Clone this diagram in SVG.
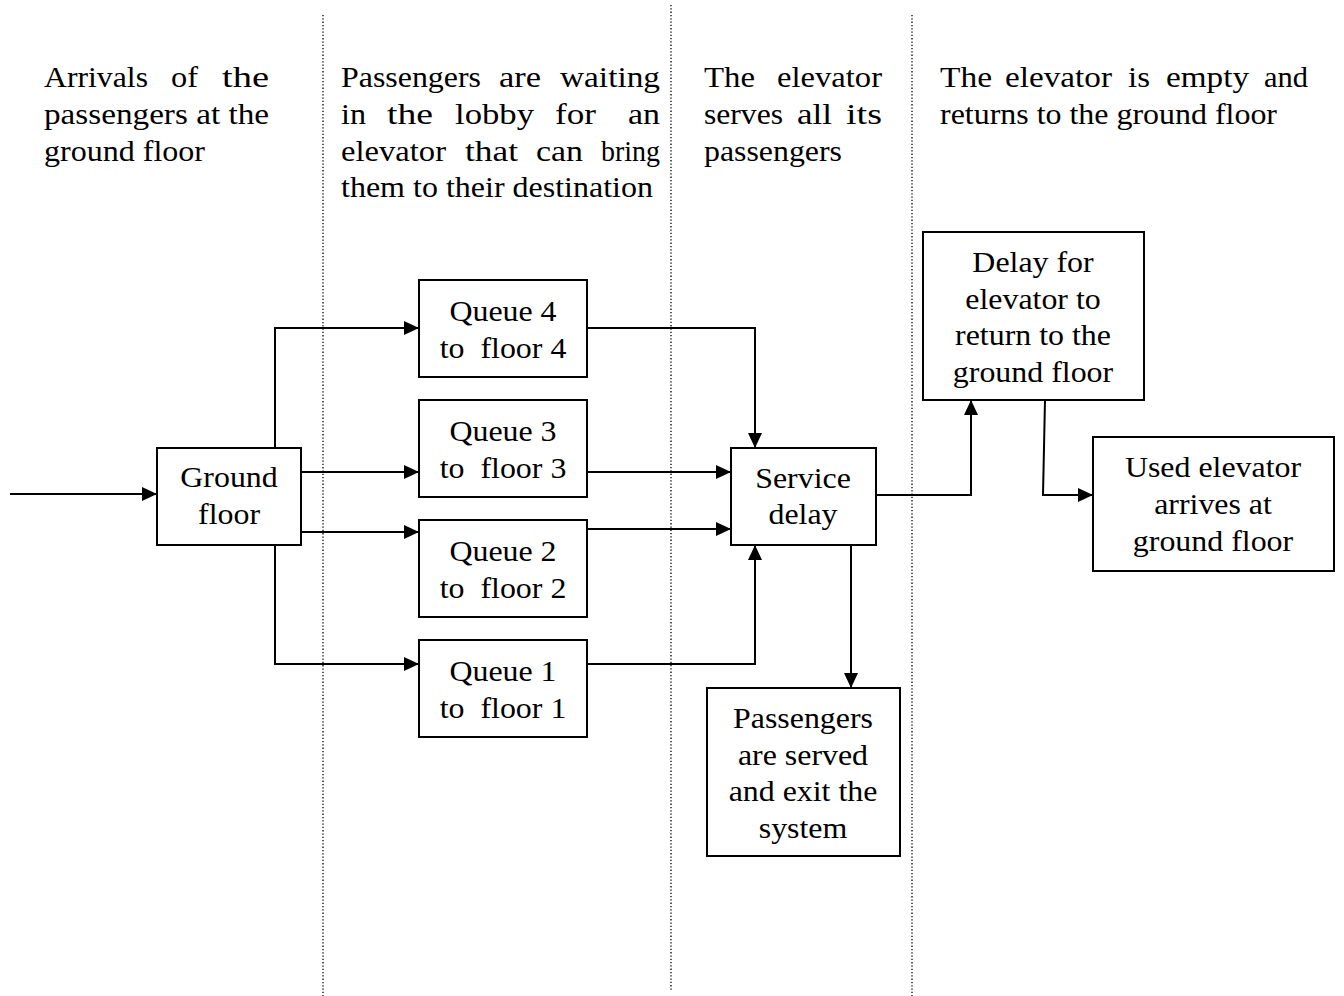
<svg xmlns="http://www.w3.org/2000/svg" width="1344" height="996" viewBox="0 0 1344 996">
<style>
text{font-family:"Liberation Serif","Times New Roman",serif;font-size:29px;fill:#000}
.box{fill:#fff;stroke:#000;stroke-width:2}
.c{fill:none;stroke:#000;stroke-width:2}
.dot{stroke:#000;stroke-width:1.3;stroke-dasharray:1.3 2}
.m{text-anchor:middle}
</style>
<defs>
<marker id="ah" markerUnits="userSpaceOnUse" markerWidth="16" markerHeight="14" refX="15" refY="7" orient="auto">
<path d="M0,0 L15,7 L0,14 z" fill="#000"/>
</marker>
</defs>
<rect width="1344" height="996" fill="#fff"/>
<g id="separators">
<line class="dot" x1="323" y1="15" x2="323" y2="996"/>
<line class="dot" x1="671" y1="5" x2="671" y2="990"/>
<line class="dot" x1="912" y1="15" x2="912" y2="996"/>
</g>
<g id="headers">
<text x="44" y="87" textLength="104" lengthAdjust="spacingAndGlyphs">Arrivals</text>
<text x="171" y="87" textLength="27" lengthAdjust="spacingAndGlyphs">of</text>
<text x="222" y="87" textLength="47" lengthAdjust="spacingAndGlyphs">the</text>
<text x="44" y="124" textLength="225" lengthAdjust="spacingAndGlyphs">passengers at the</text>
<text x="44" y="161" textLength="161" lengthAdjust="spacingAndGlyphs">ground floor</text>

<text x="341" y="87" textLength="140" lengthAdjust="spacingAndGlyphs">Passengers</text>
<text x="499" y="87" textLength="42" lengthAdjust="spacingAndGlyphs">are</text>
<text x="560" y="87" textLength="100" lengthAdjust="spacingAndGlyphs">waiting</text>
<text x="341" y="124" textLength="25" lengthAdjust="spacingAndGlyphs">in</text>
<text x="387" y="124" textLength="46" lengthAdjust="spacingAndGlyphs">the</text>
<text x="455" y="124" textLength="79" lengthAdjust="spacingAndGlyphs">lobby</text>
<text x="555" y="124" textLength="41" lengthAdjust="spacingAndGlyphs">for</text>
<text x="628" y="124" textLength="32" lengthAdjust="spacingAndGlyphs">an</text>
<text x="341" y="161" textLength="105" lengthAdjust="spacingAndGlyphs">elevator</text>
<text x="465" y="161" textLength="53" lengthAdjust="spacingAndGlyphs">that</text>
<text x="536" y="161" textLength="47" lengthAdjust="spacingAndGlyphs">can</text>
<text x="601" y="161" textLength="59" lengthAdjust="spacingAndGlyphs">bring</text>
<text x="341" y="197" textLength="312" lengthAdjust="spacingAndGlyphs">them to their destination</text>

<text x="704" y="87" textLength="51" lengthAdjust="spacingAndGlyphs">The</text>
<text x="777" y="87" textLength="105" lengthAdjust="spacingAndGlyphs">elevator</text>
<text x="704" y="124" textLength="79" lengthAdjust="spacingAndGlyphs">serves</text>
<text x="797" y="124" textLength="35" lengthAdjust="spacingAndGlyphs">all</text>
<text x="846" y="124" textLength="36" lengthAdjust="spacingAndGlyphs">its</text>
<text x="704" y="161" textLength="138" lengthAdjust="spacingAndGlyphs">passengers</text>

<text x="940" y="87" textLength="52" lengthAdjust="spacingAndGlyphs">The</text>
<text x="1005" y="87" textLength="107" lengthAdjust="spacingAndGlyphs">elevator</text>
<text x="1128" y="87" textLength="22" lengthAdjust="spacingAndGlyphs">is</text>
<text x="1166" y="87" textLength="83" lengthAdjust="spacingAndGlyphs">empty</text>
<text x="1264" y="87" textLength="44" lengthAdjust="spacingAndGlyphs">and</text>
<text x="940" y="124" textLength="337" lengthAdjust="spacingAndGlyphs">returns to the ground floor</text>
</g>
<g id="connectors">
<line class="c" x1="10" y1="494" x2="157" y2="494" marker-end="url(#ah)"/>
<polyline class="c" points="275,448 275,328 419,328" marker-end="url(#ah)"/>
<line class="c" x1="301" y1="472" x2="419" y2="472" marker-end="url(#ah)"/>
<line class="c" x1="301" y1="532" x2="419" y2="532" marker-end="url(#ah)"/>
<polyline class="c" points="275,545 275,664 419,664" marker-end="url(#ah)"/>
<polyline class="c" points="587,328 755,328 755,448" marker-end="url(#ah)"/>
<line class="c" x1="587" y1="472" x2="731" y2="472" marker-end="url(#ah)"/>
<line class="c" x1="587" y1="529" x2="731" y2="529" marker-end="url(#ah)"/>
<polyline class="c" points="587,664 755,664 755,545" marker-end="url(#ah)"/>
<line class="c" x1="851" y1="545" x2="851" y2="688" marker-end="url(#ah)"/>
<polyline class="c" points="876,495 971,495 971,400" marker-end="url(#ah)"/>
<polyline class="c" points="1045,400 1043,495 1093,495" marker-end="url(#ah)"/>
</g>
<g id="ground-floor">
<rect class="box" x="157" y="448" width="144" height="97"/>
<text class="m" transform="translate(229,0) scale(1.1,1)" y="487">Ground</text>
<text class="m" transform="translate(229,0) scale(1.1,1)" y="524">floor</text>
</g>
<g id="queue4">
<rect class="box" x="419" y="280" width="168" height="97"/>
<text class="m" transform="translate(503,0) scale(1.1,1)" y="321">Queue 4</text>
<text class="m" transform="translate(503,0) scale(1.1,1)" y="358" xml:space="preserve">to  floor 4</text>
</g>
<g id="queue3">
<rect class="box" x="419" y="400" width="168" height="97"/>
<text class="m" transform="translate(503,0) scale(1.1,1)" y="441">Queue 3</text>
<text class="m" transform="translate(503,0) scale(1.1,1)" y="478" xml:space="preserve">to  floor 3</text>
</g>
<g id="queue2">
<rect class="box" x="419" y="520" width="168" height="97"/>
<text class="m" transform="translate(503,0) scale(1.1,1)" y="561">Queue 2</text>
<text class="m" transform="translate(503,0) scale(1.1,1)" y="598" xml:space="preserve">to  floor 2</text>
</g>
<g id="queue1">
<rect class="box" x="419" y="640" width="168" height="97"/>
<text class="m" transform="translate(503,0) scale(1.1,1)" y="681">Queue 1</text>
<text class="m" transform="translate(503,0) scale(1.1,1)" y="718" xml:space="preserve">to  floor 1</text>
</g>
<g id="service-delay">
<rect class="box" x="731" y="448" width="145" height="97"/>
<text class="m" transform="translate(803,0) scale(1.1,1)" y="488">Service</text>
<text class="m" transform="translate(803,0) scale(1.1,1)" y="524">delay</text>
</g>
<g id="passengers-exit">
<rect class="box" x="707" y="688" width="193" height="168"/>
<text class="m" transform="translate(803,0) scale(1.1,1)" y="728">Passengers</text>
<text class="m" transform="translate(803,0) scale(1.1,1)" y="765">are served</text>
<text class="m" transform="translate(803,0) scale(1.1,1)" y="801">and exit the</text>
<text class="m" transform="translate(803,0) scale(1.1,1)" y="838">system</text>
</g>
<g id="return-delay">
<rect class="box" x="923" y="232" width="221" height="168"/>
<text class="m" transform="translate(1033,0) scale(1.1,1)" y="272">Delay for</text>
<text class="m" transform="translate(1033,0) scale(1.1,1)" y="309">elevator to</text>
<text class="m" transform="translate(1033,0) scale(1.1,1)" y="345">return to the</text>
<text class="m" transform="translate(1033,0) scale(1.1,1)" y="382">ground floor</text>
</g>
<g id="used-elevator">
<rect class="box" x="1093" y="437" width="241" height="134"/>
<text class="m" transform="translate(1213,0) scale(1.1,1)" y="477">Used elevator</text>
<text class="m" transform="translate(1213,0) scale(1.1,1)" y="514">arrives at</text>
<text class="m" transform="translate(1213,0) scale(1.1,1)" y="551">ground floor</text>
</g>
</svg>
